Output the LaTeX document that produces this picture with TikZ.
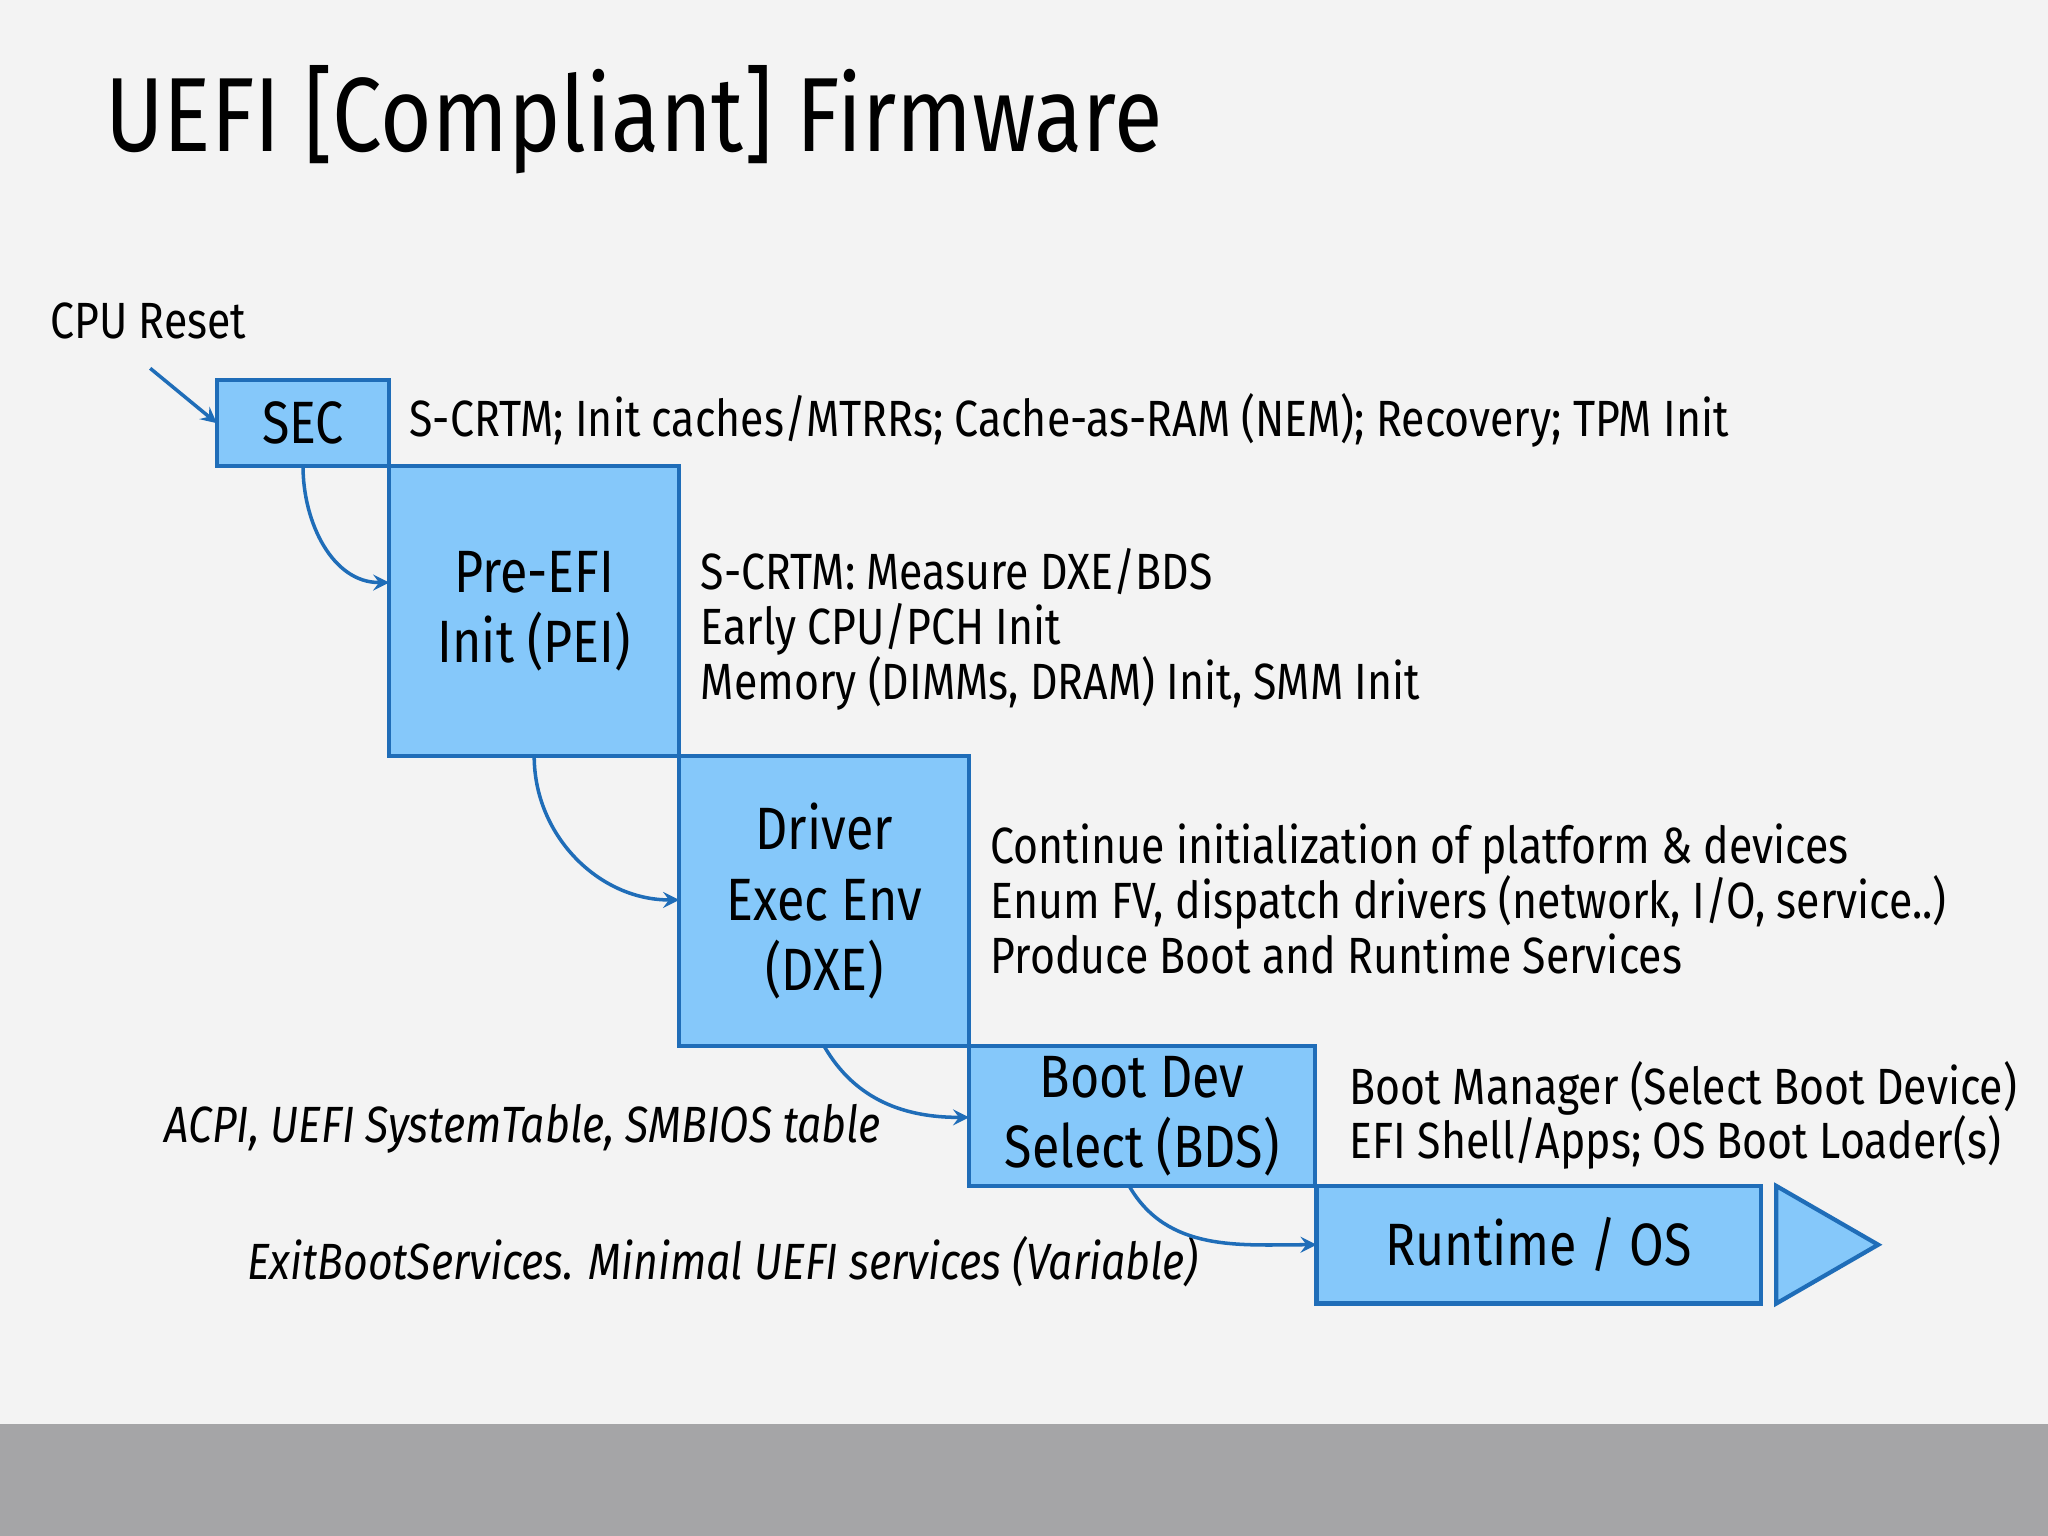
\documentclass[tikz,border=0pt]{standalone}
\usepackage{fontspec}
\setmainfont{Fira Sans}[FakeStretch=0.84]
\usetikzlibrary{shapes, calc, arrows, positioning}
\definecolor{bg}{HTML}{F3F3F3}
\definecolor{band}{HTML}{A5A5A7}
\definecolor{boxfill}{HTML}{85C8FA}
\definecolor{boxline}{HTML}{1F6DB8}
\def\u{0.01306cm}
\tikzset{
    stage/.style={draw=boxline, fill=boxfill, line width=1.2pt, inner sep=0pt, outer sep=0pt, anchor=north west, align=center, font=\fontsize{17}{20}\selectfont},
    desc/.style={anchor=west, align=left, inner sep=0pt, font=\fontsize{14.5}{15.6}\selectfont},
    note/.style={anchor=east, inner sep=0pt, font=\fontsize{14.5}{16}\selectfont\itshape},
    flow/.style={->, >=stealth, draw=boxline, line width=1pt}
}
\begin{document}
\begin{tikzpicture}[x=\u, y=-\u]
    \fill[bg] (0,0) rectangle (1568,1090);
    \fill[band] (0,1090) rectangle (1568,1176);
    \useasboundingbox (0,0) rectangle (1568,1176);
    \node[anchor=west, inner sep=0pt, font=\fontsize{30}{34}\selectfont] (title) at (80,92) {UEFI [Compliant] Firmware};
    \node[anchor=west, inner sep=0pt, font=\fontsize{14.5}{16}\selectfont] (reset) at (38,246) {CPU Reset};
    \coordinate (resetpt) at (115,282);

    \node[stage, minimum width=132*\u, minimum height=66*\u] (sec) at (166,291) {SEC};
    \node[stage, minimum width=222*\u, minimum height=222*\u] (pei) at (298,357) {Pre-EFI\\Init (PEI)};
    \node[stage, minimum width=222*\u, minimum height=222*\u] (dxe) at (520,579) {Driver\\Exec Env\\(DXE)};
    \node[stage, minimum width=265*\u, minimum height=107*\u] (bds) at (742,801) {Boot Dev\\Select (BDS)};
    \node[stage, minimum width=340*\u, minimum height=90*\u] (rt) at (1008,908) {Runtime / OS};
    \draw[draw=boxline, fill=boxfill, line width=1.2pt] (1360,908) -- (1438,953) -- (1360,998) -- cycle;

    \node[desc] (secd) at (313,322) {S-CRTM; Init caches/MTRRs; Cache-as-RAM (NEM); Recovery; TPM Init};
    \node[desc] (peid) at (536,482) {S-CRTM: Measure DXE/BDS\\Early CPU/PCH Init\\Memory (DIMMs, DRAM) Init, SMM Init};
    \node[desc] (dxed) at (758,688) {Continue initialization of platform \& devices\\Enum FV, dispatch drivers (network, I/O, service..)\\Produce Boot and Runtime Services};
    \node[desc] (bdsd) at (1033,854) {Boot Manager (Select Boot Device)\\EFI Shell/Apps; OS Boot Loader(s)};
    \node[note] (acpi) at (675,864) {ACPI, UEFI SystemTable, SMBIOS table};
    \node[note] (exit) at (918,966) {ExitBootServices. Minimal UEFI services (Variable)};

    \draw[flow] (resetpt) -- (sec.west);
    \draw[flow] (sec.south) to[out=-90, in=180] ($(pei.west)+(0,-22)$);
    \draw[flow] (pei.south) to[out=-90, in=180] ($(dxe.west)+(0,-1)$);
    \draw[flow] (dxe.south) to[out=-60, in=180] ($(bds.west)+(0,1)$);
    \draw[flow] ($(bds.south)+(-10,0)$) to[out=-60, in=180] (rt.west);
\end{tikzpicture}
\end{document}
